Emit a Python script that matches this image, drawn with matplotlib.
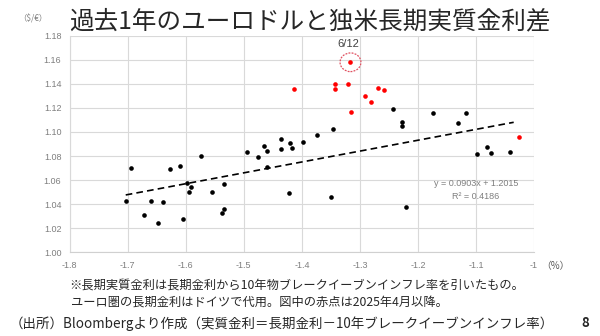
import matplotlib
matplotlib.use("Agg")
import matplotlib.pyplot as plt
from matplotlib.patches import Ellipse

plt.rcParams['font.family'] = ['Noto Sans CJK JP', 'DejaVu Sans']

# Black points: (real rate spread %, EURUSD)
black_x = [-1.7035, -1.6938, -1.6719, -1.6603, -1.6472, -1.6391, -1.6266, -1.6093,
           -1.6047, -1.5978, -1.5948, -1.5903, -1.5741, -1.5552, -1.5379, -1.5345,
           -1.5340, -1.4948, -1.4753, -1.4655, -1.4598, -1.4595, -1.4352, -1.4357,
           -1.4219, -1.4202, -1.4162, -1.3972, -1.3736, -1.3455, -1.3495, -1.2438,
           -1.2266, -1.2266, -1.2202, -1.1736, -1.1305, -1.1172, -1.0978, -1.0810,
           -1.0748, -1.0414]
black_y = [1.0429, 1.0703, 1.0308, 1.0426, 1.0244, 1.0418, 1.0692, 1.0715,
           1.0274, 1.0578, 1.0501, 1.0540, 1.0800, 1.0499, 1.0327, 1.0568,
           1.0362, 1.0834, 1.0794, 1.0883, 1.0839, 1.0712, 1.0939, 1.0856,
           1.0493, 1.0911, 1.0867, 1.0914, 1.0975, 1.1027, 1.0457, 1.1191,
           1.1085, 1.1047, 1.0374, 1.1160, 1.1075, 1.1160, 1.0817, 1.0878,
           1.0828, 1.0834]

# Red points: since April 2025
red_x = [-1.4140, -1.3421, -1.3421, -1.3207, -1.3162, -1.3150, -1.2909, -1.2805,
         -1.2684, -1.2581, -1.0259]
red_y = [1.1355, 1.1396, 1.1360, 1.1399, 1.1579, 1.1163, 1.1296, 1.1252,
         1.1365, 1.1346, 1.0956]

highlight_x, highlight_y, highlight_label = -1.3162, 1.1579, "6/12"

slope, intercept = 0.0903, 1.2015
trend_x = [-1.7035, -1.035]
r2 = 0.4186

x_ticks = [-1.8, -1.7, -1.6, -1.5, -1.4, -1.3, -1.2, -1.1, -1.0]
x_labels = ["-1.8", "-1.7", "-1.6", "-1.5", "-1.4", "-1.3", "-1.2", "-1.1", "-1"]
y_ticks = [1.00, 1.02, 1.04, 1.06, 1.08, 1.10, 1.12, 1.14, 1.16, 1.18]

fig = plt.figure(figsize=(6, 3.36), dpi=100)
ax = fig.add_axes([0.1162, 0.249, 0.7738, 0.6448])

ax.set_xlim(-1.8, -1.0)
ax.set_ylim(1.00, 1.18)
ax.set_xticks(x_ticks)
ax.set_xticklabels(x_labels, family=['Liberation Sans', 'DejaVu Sans'])
ax.set_yticks(y_ticks)
ax.set_yticklabels([f"{v:.2f}" for v in y_ticks], family=['Liberation Sans', 'DejaVu Sans'])
ax.tick_params(axis='both', length=0, labelsize=6.5, colors='#7f7f7f', pad=6)
ax.grid(True, color='#d9d9d9', linewidth=0.8)
ax.set_axisbelow(True)
for s in ax.spines.values():
    s.set_visible(False)
ax.spines['bottom'].set_visible(True)
ax.spines['bottom'].set_color('#d0d0d0')
ax.spines['left'].set_visible(True)
ax.spines['left'].set_color('#d9d9d9')

ax.scatter(black_x, black_y, s=11, color='black', zorder=3, linewidths=0)
ax.scatter(red_x, red_y, s=11, color='#ff0000', zorder=3, linewidths=0)

ty = [slope * x + intercept for x in trend_x]
ax.plot(trend_x, ty, color='black', linestyle=(0, (4, 2.5)), linewidth=1.2, zorder=2)

ell = Ellipse((highlight_x, highlight_y), width=0.036, height=0.0155, fill=False,
              edgecolor='#e05060', linestyle=(0, (1.5, 1)), linewidth=0.9, zorder=4)
ax.add_patch(ell)
ax.text(highlight_x - 0.004, 1.1735, highlight_label, ha='center', va='center',
        fontsize=8, color='#404040', family=['Liberation Sans', 'DejaVu Sans'])

ax.text(-1.1, 1.0575, f"y = {slope:.4f}x + {intercept:.4f}", ha='center', va='center',
        fontsize=6.5, color='#7f7f7f', family=['Liberation Sans', 'DejaVu Sans'])
ax.text(-1.1, 1.0465, f"R² = {r2:.4f}", ha='center', va='center',
        fontsize=6.5, color='#7f7f7f', family=['Liberation Sans', 'DejaVu Sans'])

fig.text(0.115, 0.937, "過去1年のユーロドルと独米長期実質金利差", fontsize=17.7,
         color='#262626', ha='left', va='center')
fig.text(0.055, 0.945, "（$/€）", fontsize=6, color='#7f7f7f', ha='center', va='center')
fig.text(0.926, 0.209, "（%）", fontsize=7, color='#595959', ha='center', va='center')

fig.text(0.116, 0.152, "※長期実質金利は長期金利から10年物ブレークイーブンインフレ率を引いたもの。",
         fontsize=8.8, color='#262626', ha='left', va='center')
fig.text(0.118, 0.102, "ユーロ圏の長期金利はドイツで代用。図中の赤点は2025年4月以降。",
         fontsize=8.8, color='#262626', ha='left', va='center')
fig.text(0.016, 0.038, "（出所）Bloombergより作成（実質金利＝長期金利－10年ブレークイーブンインフレ率）",
         fontsize=9.7, color='#262626', ha='left', va='center')
fig.text(0.975, 0.038, "8", fontsize=9.5, color='#262626', ha='center', va='center',
         fontweight='bold')

fig.savefig("out.png", dpi=100)
